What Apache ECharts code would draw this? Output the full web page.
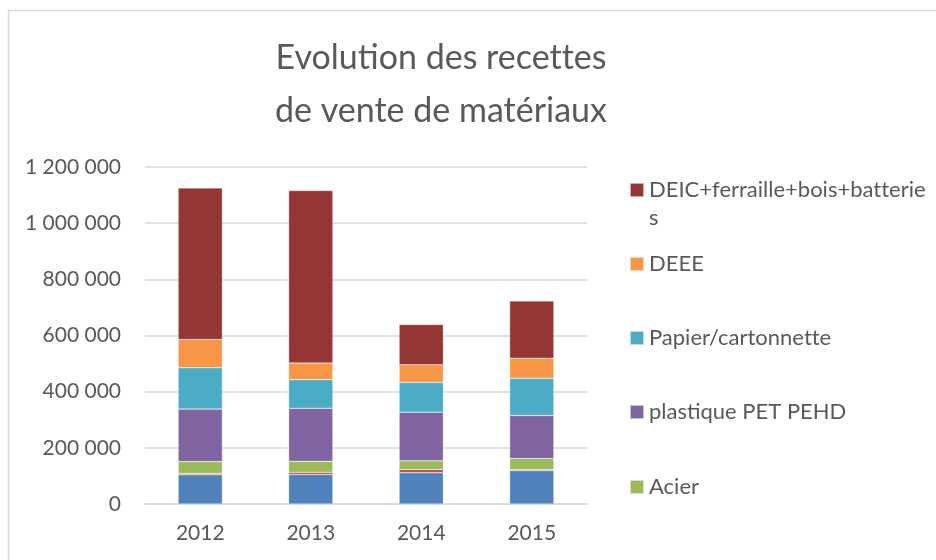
<!DOCTYPE html>
<html>
<head>
<meta charset="utf-8">
<script src="https://cdn.jsdelivr.net/npm/echarts@6/dist/echarts.min.js"></script>
<style>
    html, body { margin: 0; padding: 0; background: #fff; }
    #main { width: 936px; height: 560px; }
</style>
</head>
<body>
<div id="main"></div>
<script>
const chartDom = document.getElementById('main')
const myChart = echarts.init(chartDom)

const years = ['2012', '2013', '2014', '2015']

// bas de la pile -> haut de la pile
const verre = [104000, 105000, 111000, 119000]
const aluminium = [5000, 8000, 12000, 4000]
const acier = [42000, 39000, 31000, 39000]
const plastique = [187000, 189000, 173000, 153000]
const papier = [147000, 102000, 106000, 133000]
const deee = [101000, 59000, 63000, 71000]
const deic = [539000, 614000, 143000, 204000]

const legendNames = [
    'DEIC+ferraille+bois+batteries',
    'DEEE',
    'Papier/cartonnette',
    'plastique PET PEHD',
    'Acier'
]

const font = 'Lato'
const textColor = '#595959'

// \u200c coupe la ligature "tt" de Lato
const noLig = s => s.replace(/tt/g, 't\u200ct')

function fmt(v) {
    return String(v).replace(/\B(?=(\d{3})+(?!\d))/g, ' ')
}

function bar(name, data, color) {
    return {
        name,
        type: 'bar',
        stack: 'total',
        barWidth: '40%',
        data,
        itemStyle: {
            color,
            borderColor: 'rgba(255,255,255,0.6)',
            borderWidth: 0.5
        }
    }
}

const legendCenters = [190, 264, 338, 412, 487]

const legends = legendNames.map((name, i) => ({
    data: [name],
    orient: 'vertical',
    left: 629,
    top: legendCenters[i] - (i === 0 ? 42 : 14),
    padding: 0,
    itemWidth: 14,
    itemHeight: 14,
    icon: 'rect',
    selectedMode: false,
    formatter: n => n === legendNames[0] ? noLig('\nDEIC+ferraille+bois+batterie\ns') : noLig(n),
    textStyle: {
        fontFamily: font,
        fontSize: 22,
        color: textColor,
        lineHeight: 28
    }
}))

const option = {
    animation: false,
    backgroundColor: '#fff',
    title: {
        text: noLig('Evolution des recettes\nde vente de matériaux'),
        left: 441,
        top: 32,
        padding: 0,
        textAlign: 'center',
        textStyle: {
            fontFamily: font,
            fontSize: 34,
            fontWeight: 'normal',
            color: textColor,
            lineHeight: 53
        }
    },
    legend: legends,
    grid: {
        left: 145,
        right: 349,
        top: 167,
        bottom: 56,
        containLabel: false
    },
    xAxis: {
        type: 'category',
        data: years,
        axisTick: { show: false },
        axisLine: { lineStyle: { color: '#d9d9d9', width: 1.5 } },
        axisLabel: {
            fontFamily: font,
            fontSize: 21,
            color: textColor,
            margin: 19
        }
    },
    yAxis: {
        type: 'value',
        min: 0,
        max: 1200000,
        interval: 200000,
        axisLine: { show: false },
        axisTick: { show: false },
        splitLine: { lineStyle: { color: '#d9d9d9', width: 1.5 } },
        axisLabel: {
            fontFamily: font,
            fontSize: 21,
            color: textColor,
            margin: 24,
            formatter: fmt
        }
    },
    graphic: [
        {
            type: 'rect',
            shape: { x: 8.5, y: 10.5, width: 1000, height: 1000 },
            style: { fill: 'none', stroke: '#d9d9d9', lineWidth: 1.5 },
            silent: true
        }
    ],
    series: [
        bar('Verre', verre, '#4F81BD'),
        bar('Aluminium', aluminium, '#C0504D'),
        bar('Acier', acier, '#9BBB59'),
        bar('plastique PET PEHD', plastique, '#8064A2'),
        bar('Papier/cartonnette', papier, '#4BACC6'),
        bar('DEEE', deee, '#F79646'),
        bar('DEIC+ferraille+bois+batteries', deic, '#943634')
    ]
}

myChart.setOption(option)
</script>
</body>
</html>
